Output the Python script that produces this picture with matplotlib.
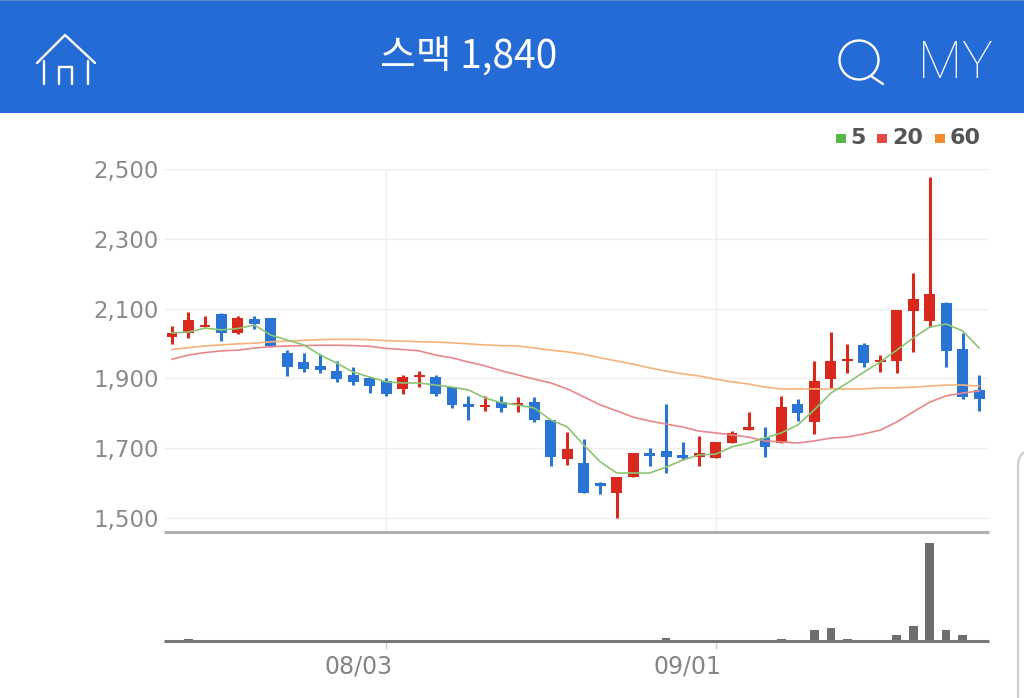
import matplotlib
matplotlib.use('Agg')
import matplotlib.pyplot as plt
from matplotlib.patches import Circle, FancyBboxPatch, Rectangle

plt.rcParams['font.family'] = ['DejaVu Sans', 'Noto Sans CJK KR']

# 일봉 (시가, 종가, 고가, 저가)
opens = [2020, 2031, 2048, 2085, 2029, 2069, 2072, 1974, 1947, 1936,
         1922, 1910, 1900, 1892, 1869, 1903, 1905, 1874, 1827, 1817,
         1833, 1825, 1833, 1781, 1668, 1659, 1601, 1571, 1617, 1687,
         1693, 1681, 1674, 1671, 1716, 1752, 1730, 1716, 1826, 1774,
         1897, 1951, 1996, 1946, 1949, 2094, 2065, 2117, 1983, 1867]
closes = [2029, 2067, 2052, 2029, 2072, 2056, 1993, 1932, 1926, 1924,
          1897, 1890, 1878, 1855, 1905, 1909, 1855, 1824, 1819, 1824,
          1815, 1831, 1781, 1674, 1697, 1571, 1592, 1618, 1685, 1678,
          1674, 1671, 1685, 1719, 1744, 1760, 1704, 1817, 1800, 1892,
          1951, 1957, 1943, 1953, 2096, 2127, 2142, 1978, 1848, 1840]
highs = [2051, 2091, 2080, 2087, 2080, 2080, 2072, 1980, 1972, 1970,
         1951, 1934, 1905, 1900, 1910, 1922, 1910, 1876, 1850, 1850,
         1850, 1846, 1846, 1781, 1747, 1726, 1604, 1618, 1685, 1701,
         1827, 1718, 1735, 1719, 1750, 1805, 1760, 1850, 1842, 1951,
         2034, 1998, 2001, 1967, 2096, 2201, 2476, 2120, 2029, 1910]
lows = [1999, 2015, 2048, 2007, 2027, 2041, 1991, 1907, 1919, 1915,
        1890, 1880, 1857, 1850, 1855, 1876, 1850, 1816, 1781, 1808,
        1803, 1803, 1775, 1649, 1653, 1571, 1569, 1500, 1617, 1649,
        1628, 1666, 1649, 1671, 1716, 1752, 1676, 1716, 1779, 1741,
        1872, 1915, 1932, 1919, 1915, 1977, 2048, 1932, 1840, 1807]

# 이동평균선
ma5 = [2030, 2033, 2044, 2039, 2043, 2053, 2024, 2010, 1996, 1967,
       1944, 1918, 1904, 1890, 1887, 1887, 1881, 1875, 1867, 1844,
       1830, 1824, 1815, 1781, 1761, 1709, 1661, 1629, 1629, 1629,
       1646, 1666, 1681, 1683, 1704, 1715, 1729, 1744, 1767, 1810,
       1858, 1887, 1918, 1947, 1981, 2016, 2047, 2056, 2036, 1987]
ma20 = [1955, 1967, 1974, 1979, 1981, 1987, 1991, 1993, 1994, 1995,
        1995, 1994, 1992, 1986, 1983, 1979, 1967, 1959, 1947, 1936,
        1922, 1910, 1898, 1887, 1870, 1847, 1824, 1807, 1789, 1778,
        1769, 1761, 1749, 1744, 1738, 1732, 1721, 1718, 1715, 1721,
        1729, 1732, 1741, 1752, 1775, 1804, 1832, 1850, 1858, 1864]
ma60 = [1983, 1988, 1993, 1996, 1999, 2001, 2005, 2007, 2009, 2011,
        2012, 2012, 2011, 2008, 2007, 2005, 2004, 2002, 1999, 1996,
        1994, 1993, 1987, 1981, 1976, 1969, 1959, 1950, 1941, 1930,
        1921, 1913, 1907, 1898, 1890, 1884, 1875, 1870, 1870, 1870,
        1870, 1870, 1870, 1873, 1873, 1875, 1878, 1881, 1881, 1878]

# 거래량 (상대값)
volume = [0.5, 2, 0.5, 0.5, 0.5, 0.5, 0.5, 0.5, 0.5, 0.5,
          0.5, 0.5, 0.5, 0.5, 0.5, 0.5, 0.5, 0.5, 0.5, 0.5,
          0.5, 0.5, 0.5, 0.5, 0.5, 0.5, 0.5, 0.5, 0.5, 0.5,
          3.3, 0.5, 0.5, 0.5, 0.5, 0.5, 0.5, 2, 0.5, 10.7,
          13.3, 2, 0.5, 0.5, 6, 14.7, 98, 10.7, 6, 0.5]

y_ticks = [1500, 1700, 1900, 2100, 2300, 2500]
date_pos = [13, 33]
date_labels = ['08/03', '09/01']

RED = '#D9281E'
BLUE = '#2A74D6'
W, H = 1024, 698


def axes_px(left, top, right, bottom):
    return fig.add_axes([left / W, 1 - bottom / H, (right - left) / W, (bottom - top) / H])


fig = plt.figure(figsize=(10.24, 6.98), dpi=100)

# 화면 장식용 (헤더, 아이콘, 범례) - 픽셀 좌표
bg = fig.add_axes([0, 0, 1, 1], zorder=0)
bg.set_xlim(0, W)
bg.set_ylim(H, 0)
bg.axis('off')
bg.add_patch(Rectangle((0, 0), W, 113, color='#246BD6', lw=0))
bg.add_patch(Rectangle((0, 0), W, 1.2, color='#5A8AD0', lw=0))
bg.text(469, 57, '스맥 1,840', color='white', fontsize=28, ha='center', va='center',
        family=['Noto Sans CJK KR', 'DejaVu Sans'], weight='medium')
bg.text(955, 64, 'MY', color='white', fontsize=37, ha='center', va='center',
        family='Roboto', weight='light')

icon = dict(color='white', lw=1.7, solid_capstyle='round')
bg.plot([37, 65, 95], [63, 35, 63], **icon)
bg.plot([44, 44], [61, 84], **icon)
bg.plot([88, 88], [61, 84], **icon)
bg.plot([59, 59, 72, 72], [84, 67, 67, 84], **icon)
bg.add_patch(Circle((859, 60), 19.5, fill=False, ec='white', lw=1.7))
bg.plot([871, 883], [76, 84], **icon)

for x, col, label, tx in [(836, '#55B847', '5', 850), (877, '#E84848', '20', 892),
                          (935, '#F08C2E', '60', 950)]:
    bg.add_patch(Rectangle((x, 134), 10, 9, color=col, lw=0))
    bg.text(tx, 138.5, label, color='#555555', fontsize=16, ha='left', va='center',
            family='DejaVu Sans', weight='bold')

# 오른쪽 아래 스크롤 패널 모서리
bg.add_patch(FancyBboxPatch((1018, 450), 60, 400, boxstyle='round,pad=0,rounding_size=16',
                            fc='white', ec='#CFCFCF', lw=1.6))

# 가격 차트
ax = axes_px(164, 169, 989, 532)
ax.patch.set_alpha(0)
ax.set_zorder(2)
ax.set_xlim(-0.486, 49.6)
ax.set_ylim(1460, 2500)
for s in ['top', 'right', 'left']:
    ax.spines[s].set_visible(False)
ax.spines['bottom'].set_color('#AFAFAF')
ax.spines['bottom'].set_linewidth(2.2)
ax.spines['bottom'].set_capstyle('butt')
ax.set_yticks(y_ticks)
ax.set_yticklabels([f'{v:,}' for v in y_ticks])
ax.set_xticks(date_pos)
ax.set_xticklabels([])
ax.tick_params(axis='y', length=0, pad=4, labelsize=16.5, labelcolor='#8A8A8A')
ax.tick_params(axis='x', length=0)
ax.grid(True, color='#EEEEEE', lw=1)
ax.set_axisbelow(True)

for i in range(len(opens)):
    col = RED if closes[i] >= opens[i] else BLUE
    ax.vlines(i, lows[i], highs[i], color=col, lw=2.2, zorder=3)
    ax.bar(i, max(abs(closes[i] - opens[i]), 5), bottom=min(opens[i], closes[i]),
           width=0.66, color=col, zorder=3)

xs = list(range(len(ma5)))
ax.plot(xs, ma60, color='#F4B27A', lw=1.2, zorder=4)
ax.plot(xs, ma20, color='#E8878A', lw=1.2, zorder=4)
ax.plot(xs, ma5, color='#8CC472', lw=1.2, zorder=4)

# 거래량
vol = axes_px(164, 532, 989, 641)
vol.patch.set_alpha(0)
vol.set_zorder(1)
vol.set_xlim(-0.486, 49.6)
vol.set_ylim(0, 109)
for s in ['top', 'right', 'left']:
    vol.spines[s].set_visible(False)
vol.spines['bottom'].set_color('#777777')
vol.spines['bottom'].set_linewidth(2.2)
vol.spines['bottom'].set_capstyle('butt')
vol.bar(xs, volume, width=0.52, color='#6E6E6E')
vol.set_yticks([])
vol.set_xticks(date_pos)
vol.set_xticklabels([])
vol.tick_params(axis='x', length=6, width=1, color='#CCCCCC')
for p, lab in zip(date_pos, date_labels):
    vol.annotate(lab, (p, 0), xytext=(6, -25), textcoords='offset pixels', ha='right', va='center',
                 fontsize=17, color='#858585', annotation_clip=False)

fig.savefig('out.png', dpi=100)
